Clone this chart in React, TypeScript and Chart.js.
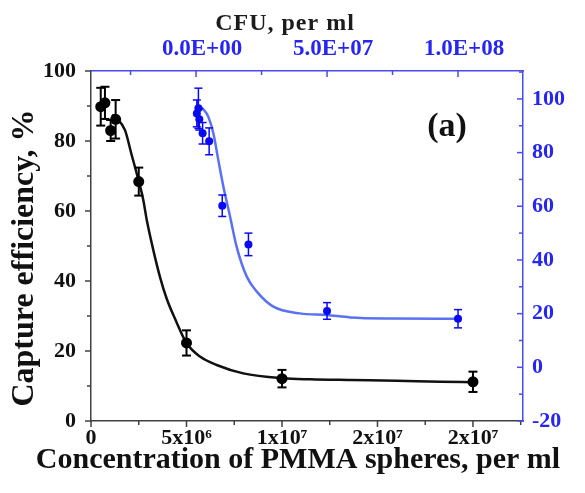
import React, { useEffect, useRef } from 'react';
import { Chart, registerables } from 'chart.js';

Chart.register(...registerables);

// PMMA spheres (bottom axis, left axis)
const pmmaConc = [5.1e5, 7.3e5, 1.03e6, 1.29e6, 2.5e6, 5.0e6, 1.0e7, 2.0e7];
const pmmaEff = [89.8, 90.9, 83.0, 86.2, 68.4, 22.3, 12.1, 11.2];
const pmmaErr = [5.4, 4.6, 3.0, 5.5, 4.0, 3.6, 2.5, 2.9];

const pmmaFitX = [1.1e6, 1.35e6, 1.78e6, 2.13e6, 2.39e6, 2.74e6, 2.92e6, 3.26e6, 3.61e6, 3.96e6, 4.4e6, 5.01e6, 5.71e6, 6.58e6, 7.97e6, 1.005e7, 1.147e7, 1.36e7, 1.6e7, 1.83e7, 2.0e7];
const pmmaFitY = [87.5, 86.5, 83.1, 76.0, 70.8, 63.1, 57.4, 48.9, 41.2, 35.0, 29.2, 22.2, 18.4, 16.0, 13.6, 12.2, 11.9, 11.7, 11.5, 11.2, 11.1];

// Bacteria (top axis, right axis)
const cfuConc = [0.3e6, 0.9e6, 1.25e6, 2.5e6, 5.0e6, 1.0e7, 2.0e7, 5.0e7, 1.0e8];
const cfuEff = [94.6, 96.5, 92.4, 87.2, 84.2, 60.2, 45.8, 21.0, 18.1];
const cfuErr = [5.0, 7.5, 4.0, 4.0, 5.0, 4.0, 4.2, 3.1, 3.4];

const cfuFitX = [0.3e6, 1.5e6, 3.05e6, 4.7e6, 6.6e6, 8.5e6, 10.4e6, 13.0e6, 15.5e6, 19.4e6, 23.2e6, 29.5e6, 39.7e6, 49.9e6, 58.8e6, 75.3e6, 100.4e6];
const cfuFitY = [97.0, 96.8, 95.8, 93.3, 87.2, 77.2, 67.5, 56.1, 44.9, 33.7, 28.2, 22.6, 20.1, 19.5, 18.6, 18.2, 18.1];

// Axes
const bottomTickValues = [0, 5e6, 1e7, 1.5e7, 2e7];
const bottomTickLabels = ['0', '5x10\u2076', '1x10\u2077', '2x10\u2077', '2x10\u2077'];
const topTickValues = [0, 5e7, 1e8];
const topTickLabels = ['0.0E+00', '5.0E+07', '1.0E+08'];
const leftTickValues = [0, 20, 40, 60, 80, 100];
const rightTickValues = [-20, 0, 20, 40, 60, 80, 100];

const bottomTitle = 'Concentration of PMMA spheres, per ml';
const leftTitle = 'Capture efficiency, %';
const topTitle = 'CFU, per ml';
const panelLabel = '(a)';

const SERIF = "'Liberation Serif', 'Times New Roman', serif";
const BLUE_AX = '#4b4bea';
const BLUE_TXT = '#2626f0';
const BLUE_PT = '#0a0af0';
const BLUE_FIT = '#5a72f2';

const pts = (xs: number[], ys: number[]) => xs.map((x, i) => ({ x, y: ys[i] }));
const errBars = (xs: number[], ys: number[], es: number[]) => {
  const out: any[] = [];
  xs.forEach((x, i) => {
    out.push({ x, y: ys[i] - es[i] });
    out.push({ x, y: ys[i] + es[i] });
    out.push({ x, y: null });
  });
  return out;
};

const setTicks = (vals: number[]) => (scale: any) => {
  scale.ticks = vals.map((v) => ({ value: v }));
};

const decorPlugin = {
  id: 'decor',
  afterDraw(chart: any) {
    const { ctx, chartArea } = chart;
    const sx = chart.scales.x;
    const sy = chart.scales.y;
    const sx2 = chart.scales.x2;
    const sy2 = chart.scales.y2;
    const minorOf = (scale: any) => {
      const v = scale.ticks.map((t: any) => t.value);
      const out: number[] = [];
      if (v.length < 2) return out;
      const step = v[1] - v[0];
      const first = v[0] - step / 2;
      if (first >= scale.min) out.push(first);
      for (let i = 0; i < v.length - 1; i++) out.push((v[i] + v[i + 1]) / 2);
      const last = v[v.length - 1] + step / 2;
      if (last <= scale.max) out.push(last);
      return out;
    };
    ctx.save();
    ctx.lineWidth = 1.5;
    ctx.strokeStyle = '#404040';
    const drawH = (scale: any, yEdge: number, dir: number, major: number, minor: number) => {
      scale.ticks.forEach((t: any) => {
        const p = scale.getPixelForValue(t.value);
        ctx.beginPath(); ctx.moveTo(p, yEdge); ctx.lineTo(p, yEdge + dir * major); ctx.stroke();
      });
      minorOf(scale).forEach((v) => {
        const p = scale.getPixelForValue(v);
        ctx.beginPath(); ctx.moveTo(p, yEdge); ctx.lineTo(p, yEdge + dir * minor); ctx.stroke();
      });
    };
    const drawV = (scale: any, xEdge: number, dir: number, major: number, minor: number) => {
      scale.ticks.forEach((t: any) => {
        const p = scale.getPixelForValue(t.value);
        ctx.beginPath(); ctx.moveTo(xEdge, p); ctx.lineTo(xEdge + dir * major, p); ctx.stroke();
      });
      minorOf(scale).forEach((v) => {
        const p = scale.getPixelForValue(v);
        ctx.beginPath(); ctx.moveTo(xEdge, p); ctx.lineTo(xEdge + dir * minor, p); ctx.stroke();
      });
    };
    drawH(sx, chartArea.bottom, 1, 6, 4);
    drawV(sy, chartArea.left, -1, 6, 4);
    ctx.strokeStyle = BLUE_AX;
    drawH(sx2, chartArea.top, 1, 6, 4);
    drawV(sy2, chartArea.right, -1, 6, 4);

    ctx.textAlign = 'center';
    ctx.textBaseline = 'alphabetic';

    // top title
    ctx.fillStyle = '#1c1c1c';
    ctx.font = `bold 24px ${SERIF}`;
    (ctx as any).letterSpacing = '1px';
    ctx.fillText(topTitle, 285, 30);
    (ctx as any).letterSpacing = '0px';

    // bottom title
    ctx.fillStyle = '#111';
    ctx.font = `bold 30px ${SERIF}`;
    ctx.fillText(bottomTitle, 298, 468);

    // left title
    ctx.save();
    ctx.translate(33, 258);
    ctx.rotate(-Math.PI / 2);
    ctx.font = `bold 32px ${SERIF}`;
    ctx.fillText(leftTitle, 0, 0);
    ctx.restore();

    // panel label
    ctx.fillStyle = '#111';
    ctx.font = `bold 34px ${SERIF}`;
    ctx.textBaseline = 'middle';
    ctx.fillText(panelLabel, sx.getPixelForValue(1.864e7), sy.getPixelForValue(84));
    ctx.restore();
  },
};

export default function App() {
  const ref = useRef<HTMLCanvasElement | null>(null);

  useEffect(() => {
    if (!ref.current) return;
    const tickFont = { family: SERIF, size: 22, weight: 'bold' as const };
    const chart = new Chart(ref.current, {
      type: 'scatter',
      data: {
        datasets: [
          {
            label: 'PMMA',
            data: pts(pmmaConc, pmmaEff),
            xAxisID: 'x', yAxisID: 'y',
            backgroundColor: '#000', borderColor: '#000',
            pointRadius: 5.5, pointBorderWidth: 0, showLine: false,
          },
          {
            label: 'CFU',
            data: pts(cfuConc, cfuEff),
            xAxisID: 'x2', yAxisID: 'y2',
            backgroundColor: BLUE_PT, borderColor: BLUE_PT,
            pointRadius: 4, pointBorderWidth: 0, showLine: false,
          },
          {
            label: 'PMMA err',
            data: errBars(pmmaConc, pmmaEff, pmmaErr),
            xAxisID: 'x', yAxisID: 'y',
            showLine: true, spanGaps: false,
            borderColor: '#000', borderWidth: 2,
            pointStyle: 'line', pointRadius: 4.5, pointBorderWidth: 2, pointBorderColor: '#000',
          },
          {
            label: 'CFU err',
            data: errBars(cfuConc, cfuEff, cfuErr),
            xAxisID: 'x2', yAxisID: 'y2',
            showLine: true, spanGaps: false,
            borderColor: BLUE_PT, borderWidth: 1.5,
            pointStyle: 'line', pointRadius: 4, pointBorderWidth: 1.5, pointBorderColor: BLUE_PT,
          },
          {
            label: 'PMMA fit',
            data: pts(pmmaFitX, pmmaFitY),
            xAxisID: 'x', yAxisID: 'y',
            showLine: true, pointRadius: 0, borderColor: '#111', borderWidth: 2.5,
            cubicInterpolationMode: 'monotone',
          },
          {
            label: 'CFU fit',
            data: pts(cfuFitX, cfuFitY),
            xAxisID: 'x2', yAxisID: 'y2',
            showLine: true, pointRadius: 0, borderColor: BLUE_FIT, borderWidth: 2.5,
            cubicInterpolationMode: 'monotone',
          },
        ],
      },
      options: {
        animation: false,
        responsive: false,
        devicePixelRatio: 1,
        layout: { padding: 0 },
        plugins: { legend: { display: false }, tooltip: { enabled: false }, title: { display: false } },
        scales: {
          x: {
            type: 'linear', position: 'bottom', min: 0, max: 2.262e7,
            afterBuildTicks: setTicks(bottomTickValues),
            afterFit: (s: any) => { s.height = 72; },
            grid: { display: false, drawTicks: false },
            border: { display: true, color: '#404040', width: 1.5 },
            ticks: {
              autoSkip: false, maxRotation: 0, padding: 4, color: '#111', font: tickFont,
              callback: (v: any) => bottomTickLabels[bottomTickValues.indexOf(Number(v))] ?? '',
            },
          },
          x2: {
            type: 'linear', position: 'top', min: -40.1e6, max: 124.8e6,
            afterBuildTicks: setTicks(topTickValues),
            afterFit: (s: any) => { s.height = 71; },
            grid: { display: false, drawTicks: false },
            border: { display: true, color: BLUE_AX, width: 1.5 },
            ticks: {
              autoSkip: false, maxRotation: 0, padding: 8, labelOffset: 6, color: BLUE_TXT,
              font: { family: SERIF, size: 23, weight: 'bold' },
              callback: (v: any) => topTickLabels[topTickValues.indexOf(Number(v))] ?? '',
            },
          },
          y: {
            type: 'linear', position: 'left', min: 0, max: 100,
            afterBuildTicks: setTicks(leftTickValues),
            afterFit: (s: any) => { s.width = 91; },
            grid: { display: false, drawTicks: false },
            border: { display: true, color: '#404040', width: 1.5 },
            ticks: { padding: 15, color: '#111', font: tickFont },
          },
          y2: {
            type: 'linear', position: 'right', min: -20, max: 110.4,
            afterBuildTicks: setTicks(rightTickValues),
            afterFit: (s: any) => { s.width = 62; },
            grid: { display: false, drawTicks: false },
            border: { display: true, color: BLUE_AX, width: 1.5 },
            ticks: { padding: 9, color: BLUE_TXT, font: tickFont },
          },
        },
      },
      plugins: [decorPlugin],
    } as any);
    return () => chart.destroy();
  }, []);

  return (
    <div style={{ position: 'fixed', left: 0, top: 0, width: 585, height: 493, background: '#fff' }}>
      <canvas ref={ref} width={585} height={493} style={{ display: 'block', width: 585, height: 493 }} />
    </div>
  );
}
